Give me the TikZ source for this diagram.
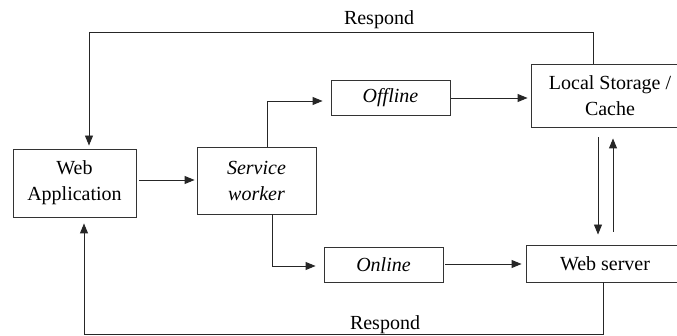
\documentclass[tikz,border=0pt]{standalone}
\usepackage{fontspec}
\setmainfont{Liberation Serif}
\usetikzlibrary{arrows.meta,calc}
\begin{document}
\begin{tikzpicture}[x=1pt,y=-1pt,
  box/.style={draw=black!80, line width=0.9pt, inner sep=0pt, align=center, font=\fontsize{20}{26}\selectfont},
  arr/.style={draw=black!85, line width=0.9pt, -{Triangle[length=10pt,width=8pt]}},
  ln/.style={draw=black!85, line width=0.9pt},
  lbl/.style={font=\fontsize{20}{23}\selectfont, inner sep=0pt}]
\useasboundingbox (0,0) rectangle (677,336);
\node[box, minimum width=123pt, minimum height=68pt] (wa) at (74.5,183) {Web\\Application};
\node[box, minimum width=119pt, minimum height=67pt] (sw) at (256.5,180.5) {\itshape Service\\\itshape worker};
\node[box, minimum width=119pt, minimum height=35pt] (off) at (390.5,97.5) {\itshape Offline};
\node[box, minimum width=158pt, minimum height=63pt] (ls) at (610,95.5) {Local Storage /\\Cache};
\node[box, minimum width=119pt, minimum height=35pt] (on) at (383.5,264.5) {\itshape Online};
\node[box, minimum width=158pt, minimum height=37pt] (ws) at (605,263.5) {Web server};
% coordinates
\coordinate (t1) at (593,32);
\coordinate (t2) at (89,32);
\coordinate (b1) at (603,334);
\coordinate (b2) at (84,334);
\coordinate (s1) at (267,101);
\coordinate (s2) at (272,266);
% connectors
\draw[ln] (ls.north -| t1) -- (t1) -- (t2);
\draw[arr] (t2) -- ($(wa.north -| t2)+(0,-3)$);
\draw[ln] (ws.south -| b1) -- (b1) -- (b2);
\draw[arr] (b2) -- ($(wa.south -| b2)+(0,6)$);
\draw[arr] ($(wa.east)+(3,-3)$) -- ($(sw.west |- wa.east)+(-2,-3)$);
\draw[arr] (sw.north -| s1) -- (s1) -- ($(off.west |- s1)+(-8,0)$);
\draw[arr] (sw.south -| s2) -- (s2) -- ($(on.west |- s2)+(-8,0)$);
\draw[arr] ($(off.east |- 0,98)+(1,0)$) -- ($(ls.west |- 0,98)+(-3,0)$);
\draw[arr] ($(on.east |- 0,264)+(2,0)$) -- ($(ws.west |- 0,264)+(-4,0)$);
\draw[arr] ($(ls.south -| 598,0)+(0,10)$) -- ($(ws.north -| 598,0)+(0,-10)$);
\draw[arr] ($(ws.north -| 613,0)+(0,-13)$) -- ($(ls.south -| 613,0)+(0,11)$);
\node[lbl] (r1) at (379,20) {Respond};
\node[lbl] (r2) at (385,325) {Respond};
\end{tikzpicture}
\end{document}
